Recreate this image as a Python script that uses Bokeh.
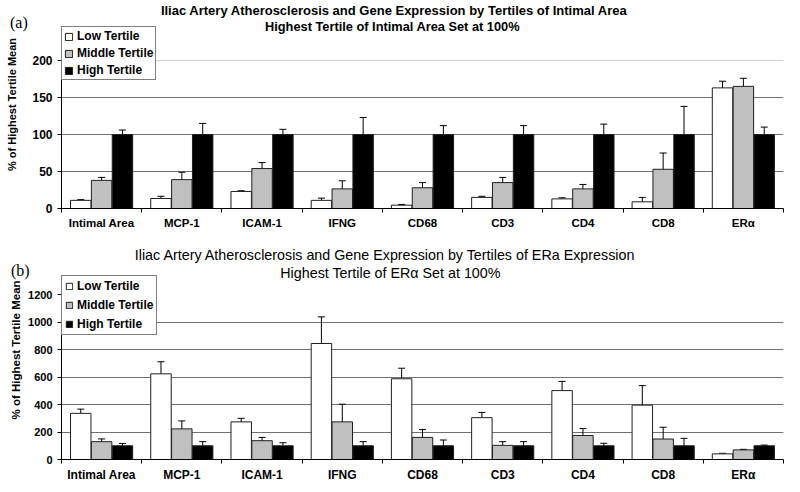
import numpy as np
from bokeh.plotting import figure
from bokeh.models import (ColumnDataSource, Range1d, FixedTicker, Whisker, TeeHead,
                          Legend, LegendItem, Label, Grid, Div)
from bokeh.transform import dodge
from bokeh.layouts import column
from bokeh.embed import file_html
from bokeh.resources import INLINE

categories = ["Intimal Area", "MCP-1", "ICAM-1", "IFNG", "CD68", "CD3", "CD4", "CD8", "ER\u03b1"]
series = ["Low Tertile", "Middle Tertile", "High Tertile"]

# Panel (a): tertiles of intimal area
a_low = [11, 13.5, 23, 11, 4.5, 15, 13, 9, 163]
a_low_err = [1, 3, 1, 3, 1, 1.5, 1.5, 6, 9]
a_mid = [38, 39, 54, 26.5, 28, 35, 26.5, 53, 165]
a_mid_err = [4, 10, 8, 11, 7, 7, 6, 22, 11]
a_high = [100, 100, 100, 100, 100, 100, 100, 100, 100]
a_high_err = [6, 15, 7, 23, 12, 12, 14, 38, 10]

# Panel (b): tertiles of ERa expression
b_low = [336, 624, 274, 845, 588, 305, 502, 396, 41]
b_low_err = [31, 88, 26, 194, 77, 38, 67, 142, 4]
b_mid = [130, 223, 137, 274, 161, 103, 175, 149, 70]
b_mid_err = [20, 58, 24, 129, 57, 27, 50, 86, 4]
b_high = [100, 100, 100, 100, 100, 100, 100, 100, 100]
b_high_err = [17, 30, 22, 30, 42, 30, 18, 54, 5]

a_yticks = [0, 50, 100, 150, 200]
a_grid = [50, 100, 150]
b_yticks = [0, 200, 400, 600, 800, 1000, 1200]
b_grid = [200, 400, 600, 800, 1000]

FILLS = ["#ffffff", "#c0c0c0", "#000000"]
OFFS = [-0.26, 0.0, 0.26]
FONT = "Liberation Sans"


def make_panel(height, border_left, border_bottom, yaxis_top, frame_px, axis_px,
               yticks, grid, vals, errs, top_edge_color, tick_fs, xlab_fs, ylab_fs,
               ylab_standoff, leg_fs, leg_loc, leg_spacing, leg_label_h, leg_pad, leg_glyph,
               titles):
    # the frame reaches the top of the figure so that titles and legend sit inside it;
    # the value axis itself is bounded at yaxis_top
    ymax = yaxis_top * frame_px / axis_px
    ncat = len(categories)
    p = figure(width=784, height=height, output_backend="svg", toolbar_location=None,
               x_range=Range1d(0.5, ncat + 0.5), y_range=Range1d(0, ymax),
               min_border_left=border_left, min_border_right=1,
               min_border_top=0, min_border_bottom=border_bottom)
    p.outline_line_color = None
    p.background_fill_color = "white"
    p.border_fill_color = "white"
    p.xgrid.visible = False
    p.ygrid.ticker = FixedTicker(ticks=grid)
    p.ygrid.grid_line_color = "#707070"
    p.ygrid.grid_line_width = 1

    if top_edge_color is not None:
        p.add_layout(Grid(dimension=1, ticker=FixedTicker(ticks=[yaxis_top]),
                          grid_line_color=top_edge_color, grid_line_width=1))
        p.add_layout(Grid(dimension=0, ticker=FixedTicker(ticks=[ncat + 0.5]),
                          bounds=(0, yaxis_top),
                          grid_line_color=top_edge_color, grid_line_width=1))

    x = np.arange(1, ncat + 1)
    items = []
    for k in range(3):
        v = np.array(vals[k], dtype=float)
        e = np.array(errs[k], dtype=float)
        src = ColumnDataSource(dict(x=x, top=v, upper=v + e, lower=v - e))
        r = p.vbar(x=dodge("x", OFFS[k], range=p.x_range), top="top", width=0.255,
                   source=src, fill_color=FILLS[k], line_color="#202020", line_width=1)
        w = Whisker(base=dodge("x", OFFS[k], range=p.x_range), upper="upper", lower="lower",
                    source=src, line_color="black", line_width=1,
                    upper_head=TeeHead(size=7, line_color="black", line_width=1),
                    lower_head=TeeHead(size=7, line_color="black", line_width=1))
        p.add_layout(w)
        items.append(LegendItem(label=series[k], renderers=[r]))

    # category axis: labels at centres, tick marks between categories
    p.xaxis.ticker = FixedTicker(ticks=list(x), minor_ticks=list(np.arange(0.5, ncat + 1, 1.0)))
    p.xaxis.major_label_overrides = {int(i): c for i, c in zip(x, categories)}
    p.xaxis.major_tick_out = 0
    p.xaxis.major_tick_in = 0
    p.xaxis.minor_tick_out = 4
    p.xaxis.minor_tick_in = 0
    p.xaxis.minor_tick_line_color = "black"
    p.xaxis.axis_line_color = "black"
    p.xaxis.major_label_standoff = 4
    p.xaxis.major_label_text_font = FONT
    p.xaxis.major_label_text_font_style = "bold"
    p.xaxis.major_label_text_font_size = xlab_fs
    p.xaxis.major_label_text_color = "black"

    p.yaxis.ticker = FixedTicker(ticks=yticks)
    p.yaxis.bounds = (0, yaxis_top)
    p.yaxis.minor_tick_line_color = None
    p.yaxis.major_tick_out = 4
    p.yaxis.major_tick_in = 0
    p.yaxis.axis_line_color = "black"
    p.yaxis.major_tick_line_color = "black"
    p.yaxis.major_label_text_font = FONT
    p.yaxis.major_label_text_font_style = "bold"
    p.yaxis.major_label_text_font_size = tick_fs
    p.yaxis.major_label_text_color = "black"
    p.yaxis.major_label_standoff = 5
    p.yaxis.axis_label = "% of Highest Tertile Mean"
    p.yaxis.axis_label_text_font = FONT
    p.yaxis.axis_label_text_font_style = "bold"
    p.yaxis.axis_label_text_font_size = ylab_fs
    p.yaxis.axis_label_text_color = "black"
    p.yaxis.axis_label_standoff = ylab_standoff

    leg = Legend(items=items, location=leg_loc, orientation="vertical",
                 border_line_color="black", border_line_width=1,
                 background_fill_color="white", background_fill_alpha=1.0,
                 label_text_font=FONT, label_text_font_style="bold",
                 label_text_font_size=leg_fs, label_text_color="black",
                 glyph_width=leg_glyph, glyph_height=leg_glyph, label_standoff=4,
                 spacing=leg_spacing, label_height=leg_label_h, padding=leg_pad, margin=0)
    p.add_layout(leg, "center")

    for (txt, tx, ty, fs, style) in titles:
        p.add_layout(Label(x=tx, y=ty, x_units="screen", y_units="screen", text=txt,
                           text_align="center", text_baseline="middle",
                           text_font=FONT, text_font_size=fs, text_font_style=style,
                           text_color="black"))
    return p


pa = make_panel(240, 53, 32, 200, 208, 148, a_yticks, a_grid,
                [a_low, a_mid, a_high], [a_low_err, a_mid_err, a_high_err],
                "#d0d0d0", "12px", "11.5px", "11px", 11, "12px", (0, 128), 3, 14, 2, 9,
                [("Iliac Artery Atherosclerosis and Gene Expression by Tertiles of Intimal Area", 333, 198, "13px", "bold"),
                 ("Highest Tertile of Intimal Area Set at 100%", 331, 182, "12.8px", "bold")])

pb = make_panel(244, 61, 22, 1200, 222, 167, b_yticks, b_grid,
                [b_low, b_mid, b_high], [b_low_err, b_mid_err, b_high_err],
                None, "11px", "12px", "11.5px", 3, "12px", (0, 124), 5, 14, 3, 8,
                [("Iliac Artery Atherosclerosis and Gene Expression by Tertiles of ERa Expression", 324, 205, "14.3px", "normal"),
                 ("Highest Tertile of ER\u03b1 Set at 100%", 329, 187, "14.3px", "normal")])


def tag(text, left, top):
    return Div(text=text, width=30, height=20,
               styles={"position": "absolute", "left": f"{left}px", "top": f"{top}px",
                       "z-index": "10", "font-family": "Liberation Serif",
                       "font-size": "16px", "color": "black"})


layout = column(pa, pb, tag("(a)", 5, 7), tag("(b)", 6, 255), spacing=0)
open("out.html", "w").write(file_html(layout, INLINE))
